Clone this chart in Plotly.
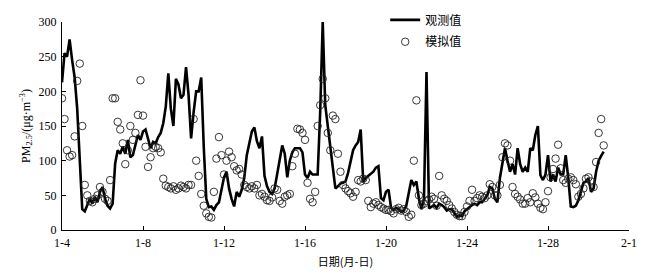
import pandas as pd
import plotly.graph_objects as go

# 3-hourly series starting 1-4 00:00
start = "2015-01-04 00:00"
observed = [
    213, 255, 250, 275, 245, 220, 175, 95, 30, 27, 35, 45, 38, 48, 40, 55,
    62, 45, 35, 31, 38, 96, 115, 110, 120, 110, 130, 105, 108, 125, 137, 130,
    142, 145, 132, 118, 127, 125, 134, 140, 154, 178, 226, 175, 150, 218, 210, 190,
    195, 235, 195, 132, 170, 200, 200, 220, 120, 45, 33, 34, 29, 36, 40, 58,
    76, 84, 60, 45, 34, 55, 48, 58, 75, 108, 125, 142, 148, 128, 118, 135,
    78, 63, 55, 52, 60, 79, 100, 122, 110, 76, 100, 112, 118, 118, 118, 112,
    80, 75, 84, 80, 80, 80, 170, 300, 180, 150, 120, 85, 60, 63, 67, 68,
    70, 82, 100, 115, 122, 127, 145, 70, 75, 78, 80, 84, 90, 92, 46, 43,
    55, 58, 32, 29, 32, 30, 26, 28, 35, 55, 72, 65, 70, 45, 30, 45,
    228, 31, 34, 36, 32, 38, 36, 33, 28, 30, 30, 24, 19, 21, 20, 27,
    30, 34, 36, 38, 36, 40, 40, 45, 50, 62, 60, 45, 40, 75, 98, 118,
    100, 84, 95, 80, 118, 95, 84, 90, 84, 118, 115, 137, 150, 79, 72, 80,
    108, 70, 80, 70, 90, 80, 80, 108, 75, 34, 33, 35, 43, 55, 68, 70,
    75, 55, 60, 84, 100, 107, 113,
]
simulated = [
    190, 160, 115, 106, 108, 135, 215, 240, 150, 65, 50, 42, 40, 45, 50, 62,
    55, 45, 42, 72, 190, 190, 156, 145, 125, 95, 115, 150, 130, 140, 166, 216,
    165, 120, 91, 105, 118, 120, 118, 112, 74, 64, 62, 60, 63, 58, 60, 64,
    62, 60, 65, 65, 160, 100, 78, 52, 35, 24, 19, 18, 55, 103, 134, 108,
    80, 100, 113, 105, 92, 86, 88, 80, 65, 62, 60, 63, 60, 65, 50, 52,
    48, 43, 42, 47, 60, 58, 42, 38, 48, 50, 52, 92, 110, 146, 145, 140,
    130, 68, 45, 40, 55, 150, 180, 218, 190, 140, 115, 165, 160, 110, 84, 65,
    60, 56, 53, 48, 55, 72, 70, 74, 72, 42, 33, 38, 40, 36, 33, 31,
    29, 29, 27, 24, 30, 32, 28, 30, 26, 19, 22, 100, 187, 50, 36, 38,
    42, 44, 48, 45, 35, 78, 50, 45, 42, 36, 31, 26, 22, 20, 20, 26,
    34, 42, 58, 42, 46, 50, 48, 46, 50, 66, 62, 50, 50, 65, 105, 125,
    122, 100, 62, 52, 48, 44, 38, 38, 46, 40, 53, 47, 38, 32, 30, 40,
    56, 76, 88, 103, 123, 89, 72, 68, 74, 76, 72, 66, 48, 52, 60, 74,
    76, 70, 62, 98, 140, 160, 122,
]
tick_dates = ["2015-01-04", "2015-01-08", "2015-01-12", "2015-01-16",
              "2015-01-20", "2015-01-24", "2015-01-28", "2015-02-01"]
tick_labels = ["1-4", "1-8", "1-12", "1-16", "1-20", "1-24", "1-28", "2-1"]
y_ticks = [0, 50, 100, 150, 200, 250, 300]

t_obs = pd.date_range(start, periods=len(observed), freq="3h")
t_sim = pd.date_range(start, periods=len(simulated), freq="3h")

serif = "Liberation Serif, Times New Roman, serif"
cjk = "Noto Sans CJK SC, sans-serif"

fig = go.Figure()
fig.add_trace(go.Scatter(
    x=t_obs, y=observed, mode="lines", name="观测值",
    line=dict(color="black", width=2.6), legend="legend",
))
fig.add_trace(go.Scatter(
    x=t_sim, y=simulated, mode="markers", name="模拟值",
    marker=dict(symbol="circle-open", size=7.5, color="#222",
                line=dict(width=0.9, color="#222")),
    legend="legend2",
))

leg_common = dict(xanchor="left", yanchor="middle", bgcolor="rgba(0,0,0,0)",
                  font=dict(family=cjk, size=12, color="black"),
                  itemsizing="trace")

fig.update_layout(
    width=642, height=269,
    margin=dict(l=54, r=21, t=14, b=47, autoexpand=False),
    paper_bgcolor="white", plot_bgcolor="white",
    showlegend=True,
    legend=dict(x=0.570, y=1.01, **leg_common),
    legend2=dict(x=0.570, y=0.905, **leg_common),
    font=dict(family=serif, size=12, color="black"),
)
fig.update_xaxes(
    type="date", range=["2015-01-04", "2015-02-01"], automargin=False,
    tickvals=tick_dates, ticktext=tick_labels,
    ticks="inside", ticklen=4, tickcolor="black",
    showline=True, linecolor="black", linewidth=1,
    showgrid=False, zeroline=False, ticklabelstandoff=2,
    tickfont=dict(family=serif, size=12, color="black"),
    title=dict(text="日期(月-日)", font=dict(family=cjk, size=11, color="black"), standoff=8),
)
fig.update_yaxes(
    range=[0, 300], tickvals=y_ticks, automargin=False,
    ticks="inside", ticklen=4, tickcolor="black",
    showline=True, linecolor="black", linewidth=1,
    showgrid=False, zeroline=False, ticklabelstandoff=2,
    tickfont=dict(family=serif, size=12, color="black"),
    title=dict(text="PM<sub>2.5</sub>/(μg·m<sup>−3</sup>)",
               font=dict(family=serif, size=12, color="black"), standoff=5),
)

fig.write_html("out.html")
